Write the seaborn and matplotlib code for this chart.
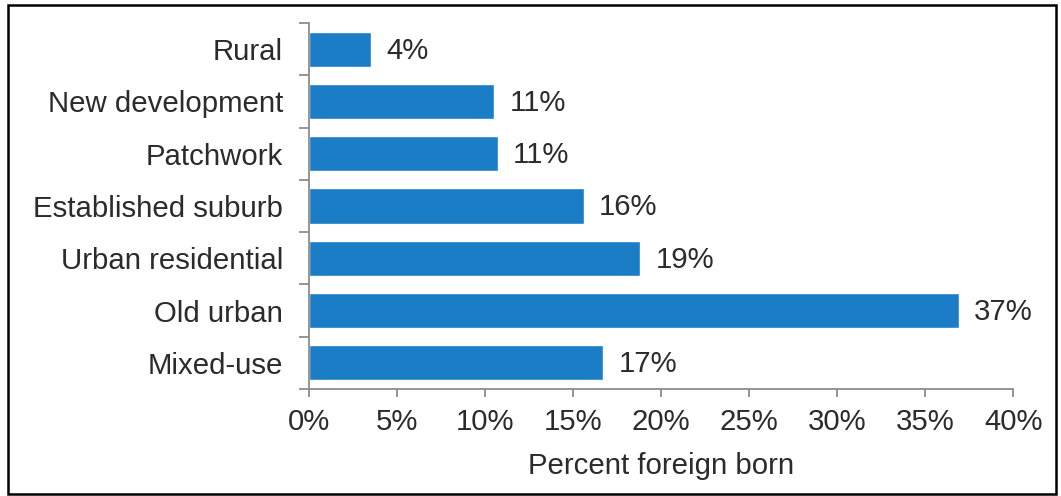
import matplotlib
matplotlib.use("Agg")
import matplotlib.pyplot as plt
from matplotlib.patches import Rectangle
from matplotlib.ticker import FixedLocator, PercentFormatter
import seaborn as sns
import pandas as pd

# Share of residents born abroad, by neighborhood type
categories = ["Rural", "New development", "Patchwork", "Established suburb",
              "Urban residential", "Old urban", "Mixed-use"]
percent_foreign_born = [3.5, 10.5, 10.7, 15.6, 18.8, 36.9, 16.7]
x_ticks = [0, 5, 10, 15, 20, 25, 30, 35, 40]

BAR_COLOR = "#1B7DC6"
TEXT_COLOR = "#2B2B2B"
SPINE_COLOR = "#8C8C8C"
FONT_SIZE = 21.2

sns.set_theme(style="white")
plt.rcParams["font.family"] = ["Liberation Sans", "DejaVu Sans"]

df = pd.DataFrame({"category": categories, "pct": percent_foreign_born})

fig = plt.figure(figsize=(10.61, 4.96), dpi=100)
ax = fig.add_axes([0.2915, 0.2157, 0.9550 - 0.2915, 0.9536 - 0.2157])

sns.barplot(data=df, x="pct", y="category", color=BAR_COLOR, saturation=1,
            width=0.67, orient="h", ax=ax)

# value labels beside each bar
for i, v in enumerate(percent_foreign_born):
    label = f"{int(v + 0.5)}%"
    ax.annotate(label, xy=(v, i), xytext=(11, -1), textcoords="offset points",
                va="center", ha="left", fontsize=FONT_SIZE, color=TEXT_COLOR)

ax.set_xlim(0, 40)
ax.set_ylim(len(categories) - 0.5, -0.5)
ax.xaxis.set_major_locator(FixedLocator(x_ticks))
ax.xaxis.set_major_formatter(PercentFormatter(decimals=0))

ax.set_xlabel("Percent foreign born", fontsize=FONT_SIZE, color=TEXT_COLOR,
              labelpad=12)
ax.set_ylabel("")

for side in ["top", "right"]:
    ax.spines[side].set_visible(False)
for side in ["left", "bottom"]:
    ax.spines[side].set_color(SPINE_COLOR)
    ax.spines[side].set_linewidth(1.3)

ax.tick_params(axis="x", which="major", direction="out", length=5.5, width=1.3,
               color=SPINE_COLOR, labelsize=FONT_SIZE, labelcolor=TEXT_COLOR,
               pad=8, bottom=True)
# category names centered on bars, tick marks between categories
ax.tick_params(axis="y", which="major", length=0, labelsize=FONT_SIZE,
               labelcolor=TEXT_COLOR, pad=19)
ax.yaxis.set_minor_locator(FixedLocator([i - 0.5 for i in range(len(categories) + 1)]))
ax.tick_params(axis="y", which="minor", direction="out", length=7, width=1.3,
               color=SPINE_COLOR, left=True)

# outer frame around the whole figure
frame = Rectangle((7.5 / 1061, 2.0 / 496), (1056 - 7.5) / 1061, (491 - 2.0) / 496,
                  transform=fig.transFigure, fill=False, edgecolor="black",
                  linewidth=1.8, zorder=10)
fig.patches.append(frame)

fig.savefig("out.png", dpi=100, facecolor="white")
